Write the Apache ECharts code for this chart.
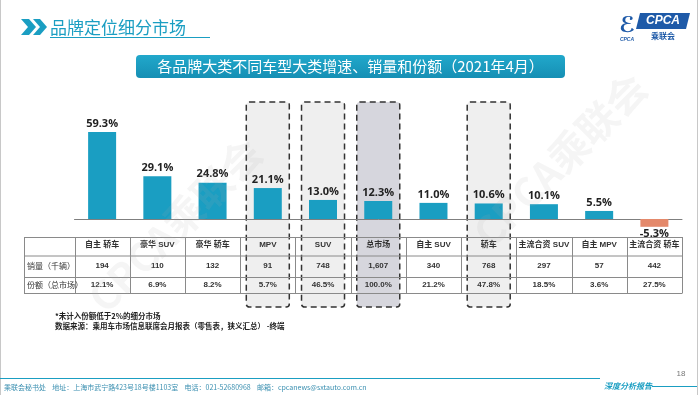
<!DOCTYPE html>
<html><head><meta charset="utf-8">
<script src="https://cdn.jsdelivr.net/npm/echarts@6/dist/echarts.min.js"></script>
<style>html,body{margin:0;padding:0;background:#fff}#c{width:700px;height:395px}</style>
</head><body><div id="c"></div>
<script>
const categories = ['自主 轿车','豪华 SUV','豪华 轿车','MPV','SUV','总市场','自主 SUV','轿车','主流合资 SUV','自主 MPV','主流合资 轿车'];
const growth = [59.3, 29.1, 24.8, 21.1, 13.0, 12.3, 11.0, 10.6, 10.1, 5.5, -5.3];
const sales = ['194','110','132','91','748','1,607','340','768','297','57','442'];
const share = ['12.1%','6.9%','8.2%','5.7%','46.5%','100.0%','21.2%','47.8%','18.5%','3.6%','27.5%'];
const rowLabels = ['销量（千辆）','份额（总市场）'];
const boxedLight = ['MPV','SUV','轿车'];
const boxedDark = ['总市场'];

const TEAL = '#1A9EC2';
const CJK = '"Liberation Sans","Noto Sans CJK SC",sans-serif';
const chart = echarts.init(document.getElementById('c'), null, {renderer:'canvas'});

chart.setOption({
  animation:false,
  grid:{left:74.5, right:18, top:116.3, height:117.4},
  xAxis:{type:'category', data:categories,
    axisLine:{onZero:true, lineStyle:{color:'#7f7f7f', width:1}},
    axisTick:{show:false},
    axisLabel:{show:true, interval:0, margin:7, fontSize:8, fontWeight:'bold', color:'#333', fontFamily:CJK},
    z:5},
  yAxis:{type:'value', min:-10, max:70, show:false, splitLine:{show:false}},
  series:[{type:'bar', barWidth:28, z:5,
    data: growth.map(v => v < 0 ? {value:v, itemStyle:{color:'#E4896B'}, label:{position:'bottom', distance:2}} : v),
    itemStyle:{color:TEAL},
    label:{show:true, position:'top', distance:3, fontSize:11, fontWeight:'bold', color:'#222',
      fontFamily:'"Open Sans","Liberation Sans",sans-serif', formatter:p => p.value.toFixed(1)+'%'}
  }]
});

function px(cat){ return chart.convertToPixel({xAxisIndex:0}, cat); }
const g = [];
// slide frame
g.push({type:'line', shape:{x1:0.5,y1:0,x2:0.5,y2:395}, style:{stroke:'#c8c8c8', lineWidth:1}, z:1});
g.push({type:'line', shape:{x1:697.5,y1:0,x2:697.5,y2:395}, style:{stroke:'#c8c8c8', lineWidth:1}, z:1});
// header chevrons
g.push({type:'polygon', shape:{points:[[21,19],[29,19],[36,27],[29,35],[21,35],[28,27]]}, style:{fill:TEAL}, z:10});
g.push({type:'polygon', shape:{points:[[33,19],[40,19],[47,27],[40,35],[33,35],[40,27]]}, style:{fill:TEAL}, z:10});
g.push({type:'text', style:{x:50, y:28, text:'品牌定位细分市场', fill:TEAL, font:'17px "Noto Sans CJK SC",sans-serif', align:'left', verticalAlign:'middle', textAlign:'left', textVerticalAlign:'middle'}, z:10});
g.push({type:'line', shape:{x1:50,y1:37.5,x2:210,y2:37.5}, style:{stroke:TEAL, lineWidth:1}, z:10});
// logo
g.push({type:'polygon', shape:{points:[[640,13],[690,13],[686,29],[636,29]]}, style:{fill:'#1E5AA8'}, z:10});
g.push({type:'text', style:{x:663, y:21, text:'CPCA', fill:'#fff', font:'italic bold 12px "Liberation Sans",sans-serif', align:'center', verticalAlign:'middle', textAlign:'center', textVerticalAlign:'middle'}, z:11});
g.push({type:'text', style:{x:663, y:36, text:'乘联会', fill:'#1E5AA8', font:'bold 8px "Noto Sans CJK SC",sans-serif', align:'center', verticalAlign:'middle', textAlign:'center', textVerticalAlign:'middle'}, z:11});
g.push({type:'text', style:{x:627, y:26, text:'ℰ', fill:'#1E5AA8', font:'italic bold 22px "DejaVu Sans",sans-serif', align:'center', verticalAlign:'middle', textAlign:'center', textVerticalAlign:'middle'}, z:11});
g.push({type:'text', style:{x:627, y:40, text:'CPCA', fill:'#1E5AA8', font:'italic bold 5px "Liberation Sans",sans-serif', align:'center', verticalAlign:'middle', textAlign:'center', textVerticalAlign:'middle'}, z:11});
// banner
g.push({type:'rect', shape:{x:136, y:55, width:429, height:23, r:4}, style:{fill:new echarts.graphic.LinearGradient(0,0,0,1,[{offset:0,color:'#21A8CB'},{offset:1,color:'#168FB4'}])}, z:10});
g.push({type:'text', style:{x:350.5, y:66.5, text:'各品牌大类不同车型大类增速、销量和份额（2021年4月）', fill:'#fff', font:'15px "Noto Sans CJK SC",sans-serif', align:'center', verticalAlign:'middle', textAlign:'center', textVerticalAlign:'middle'}, z:11});
// highlight boxes
const boxTop = 102, boxBot = 307, boxW = 43;
categories.forEach(c => {
  const dark = boxedDark.includes(c), light = boxedLight.includes(c);
  if(!dark && !light) return;
  const cx = px(c);
  g.push({type:'rect', shape:{x:cx-boxW/2, y:boxTop, width:boxW, height:boxBot-boxTop, r:3},
    style:{fill: dark ? '#D6D6DD' : '#EFEFEF', stroke:'#333', lineWidth:1.5, lineDash:[6,4]}, z:0, zlevel:0});
});
// table
const tLeft = 24, tRight = 682;
const rowsY = [237, 255.5, 277, 293];
rowsY.forEach(y => g.push({type:'line', shape:{x1:tLeft, y1:y+0.5, x2:tRight, y2:y+0.5}, style:{stroke:'#8a8a8a', lineWidth:1}, z:3}));
const step = px(categories[1]) - px(categories[0]);
const colX = [tLeft];
for(let k=0;k<=categories.length;k++) colX.push(px(categories[0]) - step/2 + k*step);
colX.forEach(x => g.push({type:'line', shape:{x1:Math.round(x)+0.5, y1:rowsY[0], x2:Math.round(x)+0.5, y2:rowsY[3]+0.5}, style:{stroke:'#8a8a8a', lineWidth:1}, z:3}));
const midY = [(rowsY[1]+rowsY[2])/2, (rowsY[2]+rowsY[3])/2];
rowLabels.forEach((t,i) => g.push({type:'text', style:{x:tLeft+3, y:midY[i], text:t, fill:'#333', font:'8px "Noto Sans CJK SC",sans-serif', align:'left', verticalAlign:'middle', textAlign:'left', textVerticalAlign:'middle'}, z:6}));
[sales, share].forEach((row,i) => row.forEach((t,j) => g.push({type:'text', style:{x:px(categories[j]), y:midY[i], text:t, fill:'#333', font:'bold 8px '+CJK, align:'center', verticalAlign:'middle', textAlign:'center', textVerticalAlign:'middle'}, z:6})));
// footnote
g.push({type:'text', style:{x:55, y:316, text:'*未计入份额低于2%的细分市场', fill:'#222', font:'bold 7.5px "Noto Sans CJK SC",sans-serif', align:'left', verticalAlign:'middle', textAlign:'left', textVerticalAlign:'middle'}, z:6});
g.push({type:'text', style:{x:55, y:326, text:'数据来源：乘用车市场信息联席会月报表（零售表，狭义汇总） -终端', fill:'#222', font:'bold 7.5px "Noto Sans CJK SC",sans-serif', align:'left', verticalAlign:'middle', textAlign:'left', textVerticalAlign:'middle'}, z:6});
// footer
g.push({type:'line', shape:{x1:0, y1:378.5, x2:600, y2:378.5}, style:{stroke:TEAL, lineWidth:1.2}, z:6});
g.push({type:'text', style:{x:4, y:387, text:'乘联会秘书处    地址：上海市武宁路423号18号楼1103室    电话：021-52680968    邮箱：cpcanews@sxtauto.com.cn', fill:'#3a8fb0', font:'7px "Noto Sans CJK SC",sans-serif', align:'left', verticalAlign:'middle', textAlign:'left', textVerticalAlign:'middle'}, z:6});
g.push({type:'text', style:{x:604, y:386, text:'深度分析报告', fill:TEAL, font:'italic bold 8px "Noto Sans CJK SC",sans-serif', align:'left', verticalAlign:'middle', textAlign:'left', textVerticalAlign:'middle'}, z:6});
g.push({type:'line', shape:{x1:652, y1:386.5, x2:697, y2:386.5}, style:{stroke:TEAL, lineWidth:1.2}, z:6});
g.push({type:'text', style:{x:681, y:374, text:'18', fill:'#777', font:'8px "Liberation Sans",sans-serif', align:'center', verticalAlign:'middle', textAlign:'center', textVerticalAlign:'middle'}, z:6});
// watermarks
[[175,225],[560,160]].forEach(p => g.push({type:'text', rotation:Math.PI/4, x:p[0], y:p[1], style:{x:0, y:0, text:'CPCA乘联会', fill:'rgba(170,170,170,0.12)', font:'bold 40px "Noto Sans CJK SC",sans-serif', align:'center', verticalAlign:'middle', textAlign:'center', textVerticalAlign:'middle'}, z:20}));

chart.setOption({graphic:g});
</script></body></html>
